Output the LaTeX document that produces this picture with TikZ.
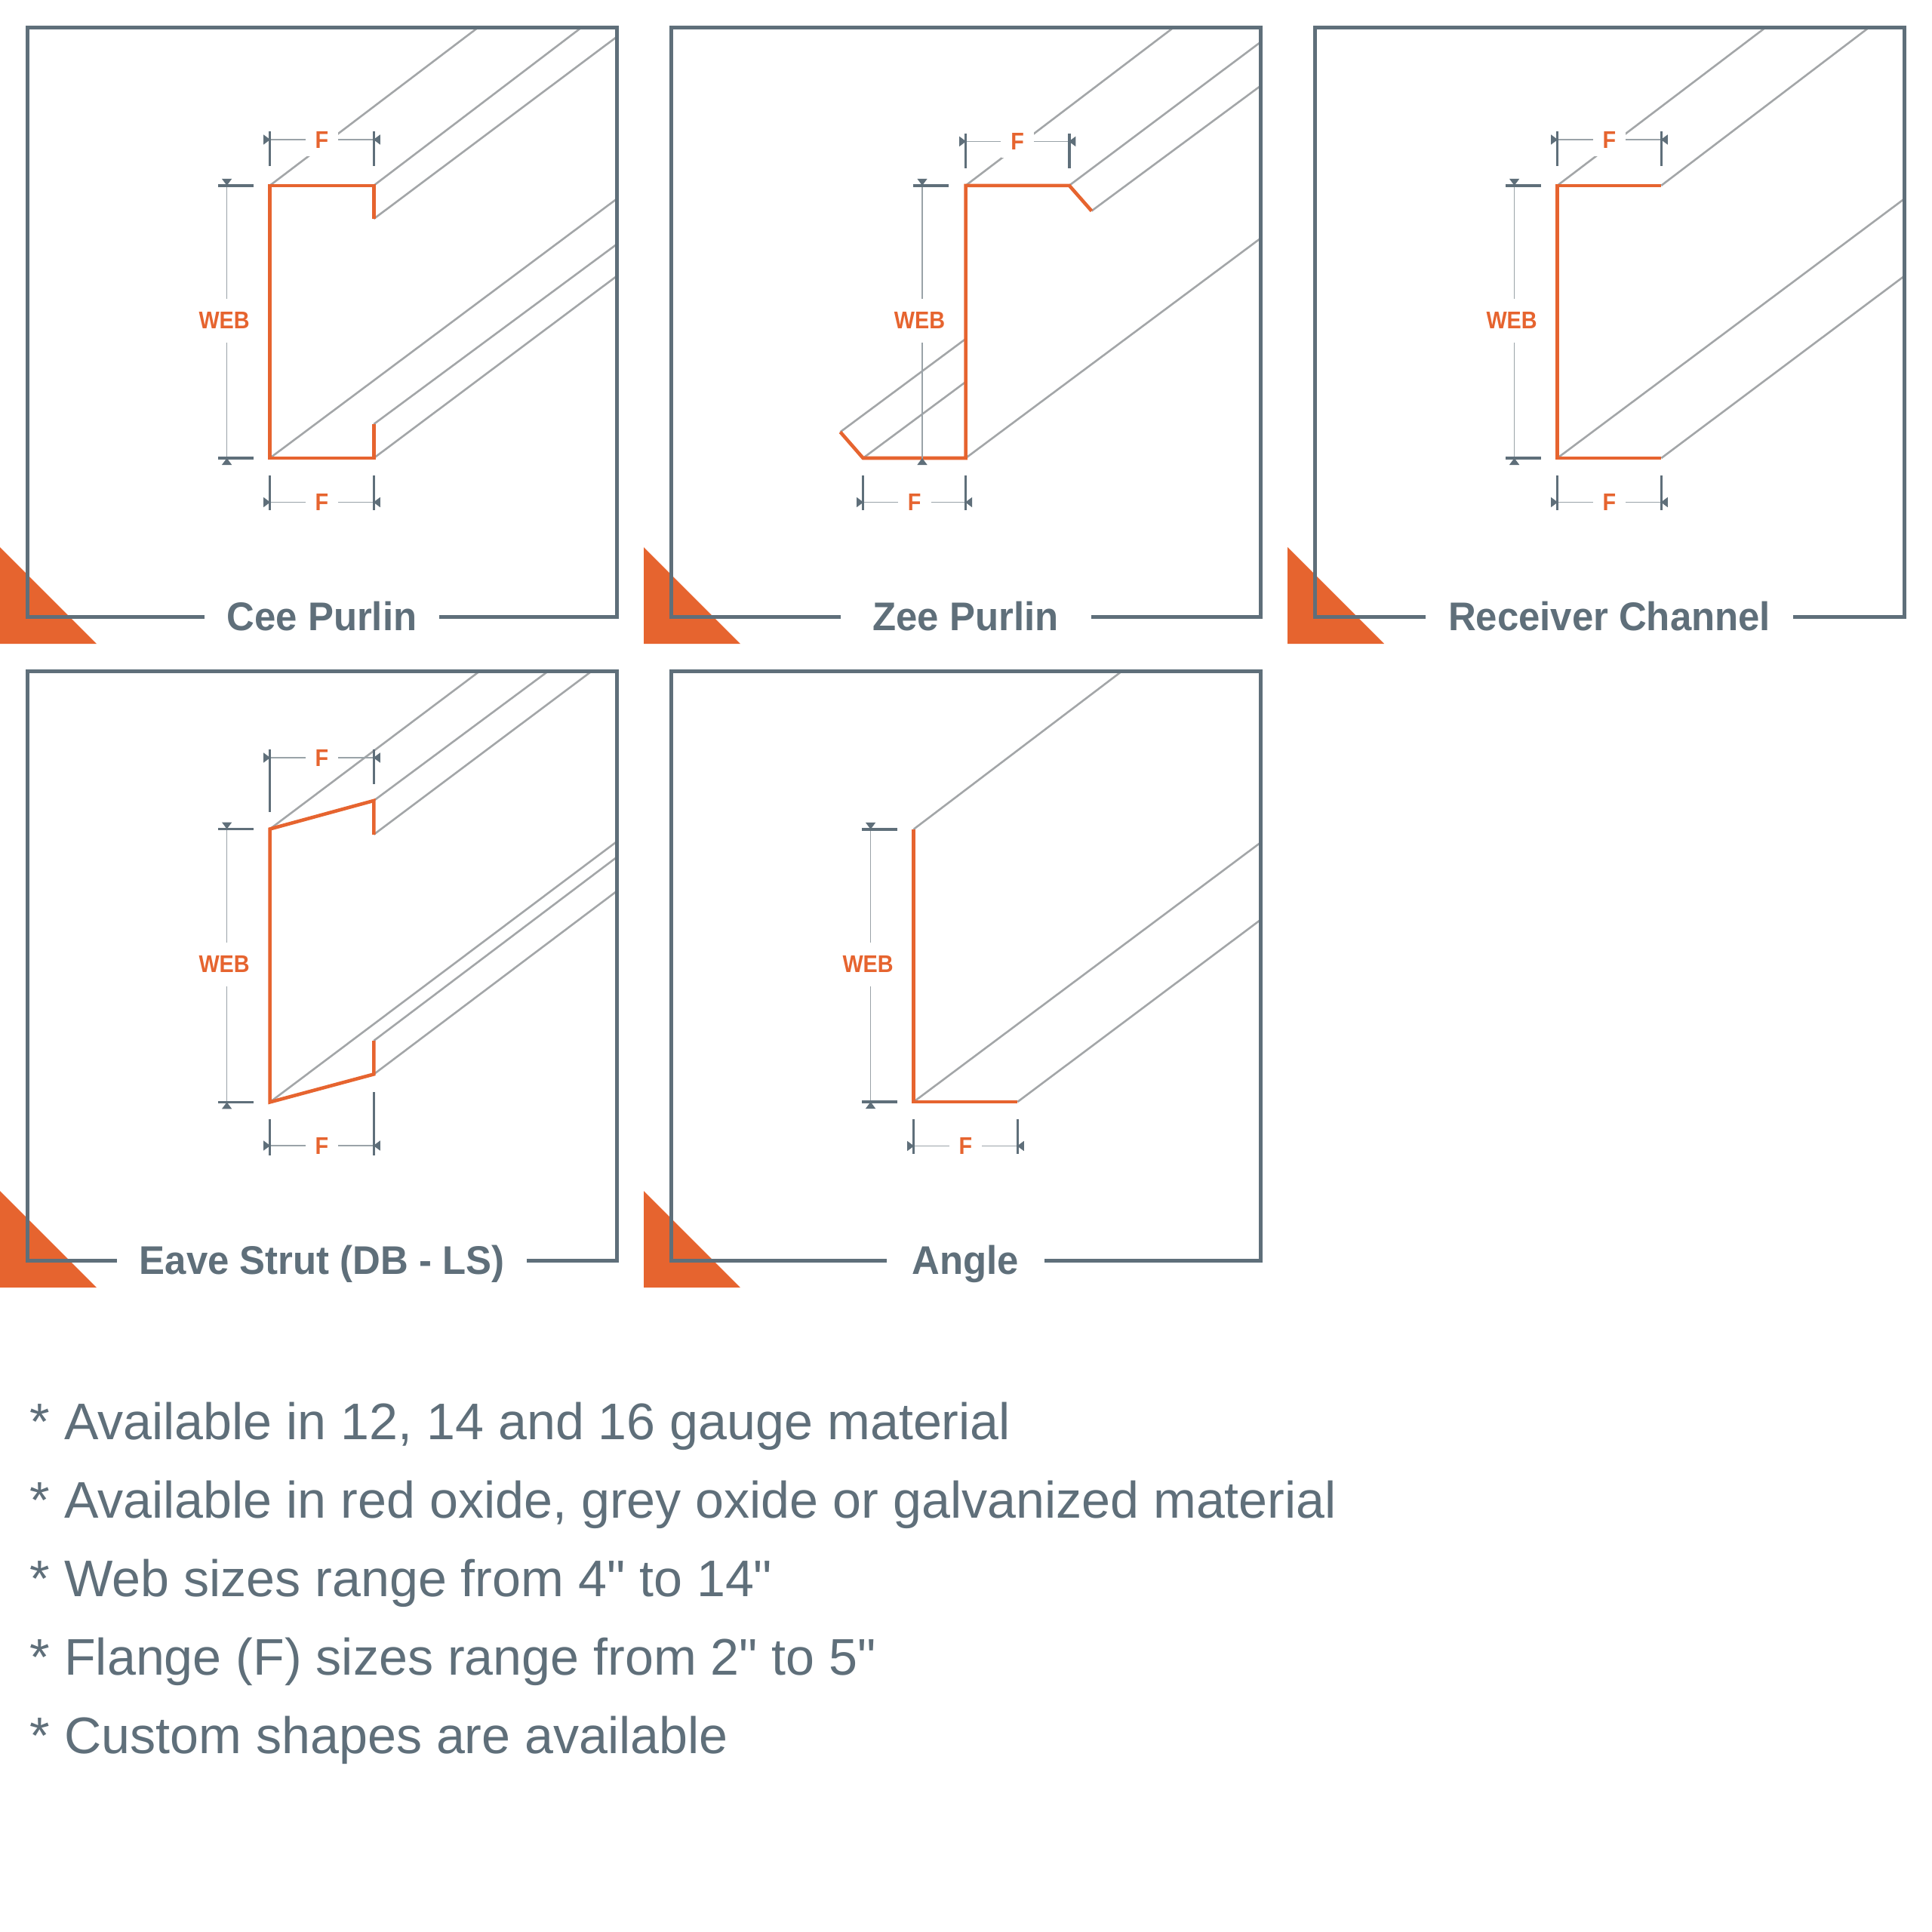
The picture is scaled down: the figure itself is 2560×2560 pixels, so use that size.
\documentclass[tikz,border=0pt]{standalone}
\usepackage{fontspec}
\setmainfont[Ligatures=TeXOff]{Liberation Sans}
\newfontfamily\labelfont[FakeStretch=0.9]{Liberation Sans}
\newfontfamily\titlefont[FakeStretch=0.96]{Liberation Sans}
\usetikzlibrary{arrows.meta}
\definecolor{slate}{HTML}{5F6F7A}
\definecolor{accent}{HTML}{E6642F}
\definecolor{edge}{HTML}{A3A6A8}
\definecolor{thin}{HTML}{9AA3A8}

% frame, corner mark and title of one panel
\newcommand{\panelframe}[2][]{
  \fill[accent] (0,725) -- (0,853) -- (128,853) -- cycle;
  \draw[panelline] (36,36) rectangle (817,817);
  \node[paneltitle, #1] (title) at (426.5,816.5) {#2};
}
% flange dimension: name, left x, right x, y
\newcommand{\flangedim}[4]{
  \coordinate (#1l) at (#2-8.5,#4);
  \coordinate (#1r) at (#3+8.5,#4);
  \node[dimlabel, minimum width=21.5pt, minimum height=22pt] (#1) at ({(#2+#3)/2},#4) {F};
  \draw[dimline] (#1l) -- (#1);
  \draw[dimline] (#1r) -- (#1);
}
% web dimension: line x, top y, bottom y
\newcommand{\webdim}[3]{
  \coordinate (wt) at (#1,#2-9);
  \coordinate (wb) at (#1,#3+9);
  \node[dimlabel, minimum height=28.5pt] (web) at (#1-3.5,{(#2+#3)/2-1.5}) {WEB};
  \draw[dimline] (wt) -- (wt |- web.north);
  \draw[dimline] (wb) -- (wb |- web.south);
  \draw[extline] (#1-11.6,#2) -- (#1+35.4,#2);
}

\begin{document}
\begin{tikzpicture}[
    x=0.5pt, y=-0.5pt,
    panelline/.style={draw=slate, line width=2.5pt},
    profile/.style={draw=accent, line width=2.3pt},
    edgeline/.style={draw=edge, line width=1.3pt},
    extline/.style={draw=slate, line width=1.7pt},
    dimline/.style={draw=thin, line width=0.8pt, {Triangle[reversed, length=4.5pt, width=6.5pt, color=slate]}-},
    dimlabel/.style={fill=white, inner sep=0pt, text=accent, font=\labelfont\fontsize{16}{16}\selectfont\bfseries},
    paneltitle/.style={fill=white, inner xsep=15pt, inner ysep=8pt, text height=19pt, text depth=0pt, text=slate, font=\titlefont\fontsize{26.5}{26.5}\selectfont\bfseries},
    note/.style={anchor=base west, inner sep=0pt, text=slate, font=\fontsize{34.1}{34.1}\selectfont}
  ]
  \useasboundingbox (0,0) rectangle (2560,2560);

  % Cee Purlin
  \begin{scope}
    \draw[edgeline] (357.6,245.8) -- (634,36);
    \draw[edgeline] (495.3,245.8) -- (771,36);
    \draw[edgeline] (495.3,290) -- (817,49);
    \draw[edgeline] (357.6,607) -- (817,263.7);
    \draw[edgeline] (495.3,562) -- (817,323.8);
    \draw[edgeline] (495.3,607) -- (817,366);
    \draw[profile] (495.3,290) -- (495.3,245.8) -- (357.6,245.8) -- (357.6,607) -- (495.3,607) -- (495.3,562);
    \flangedim{ftop}{357.6}{495.3}{185}
    \flangedim{fbot}{357.6}{495.3}{665.5}
    \draw[extline] (357.6,174) -- (357.6,220);
    \draw[extline] (495.3,174) -- (495.3,220);
    \draw[extline] (357.6,630) -- (357.6,676);
    \draw[extline] (495.3,630) -- (495.3,676);
    \webdim{300.6}{245.8}{607}
    \draw[extline] (289,607) -- (336,607);
    \panelframe{Cee Purlin}
  \end{scope}

  % Zee Purlin
  \begin{scope}[shift={(853,0)}]
    \draw[edgeline] (426.6,245.8) -- (702.6,36);
    \draw[edgeline] (563.8,245.8) -- (817,56);
    \draw[edgeline] (593.4,279.5) -- (817,114);
    \draw[edgeline] (426.6,607) -- (817,316);
    \draw[edgeline] (260.4,572.4) -- (426.6,449);
    \draw[edgeline] (290.6,607) -- (426.6,506);
    \draw[profile] (593.4,279.5) -- (563.8,245.8) -- (426.6,245.8) -- (426.6,607) -- (290.6,607) -- (260.4,572.4);
    \flangedim{ftop}{426.6}{563.8}{187.4}
    \flangedim{fbot}{290.6}{426.6}{665.5}
    \draw[extline] (426.6,176.8) -- (426.6,222.8);
    \draw[extline] (563.8,176.8) -- (563.8,222.8);
    \draw[extline] (290.6,630) -- (290.6,676);
    \draw[extline] (426.6,630) -- (426.6,676);
    \webdim{369}{245.8}{607}
    \panelframe[inner xsep=21.5pt]{Zee Purlin}
  \end{scope}

  % Receiver Channel
  \begin{scope}[shift={(1706,0)}]
    \draw[edgeline] (357.6,245.8) -- (634,36);
    \draw[edgeline] (495.3,245.8) -- (771,36);
    \draw[edgeline] (357.6,607) -- (817,263.7);
    \draw[edgeline] (495.3,607) -- (817,366);
    \draw[profile] (495.3,245.8) -- (357.6,245.8) -- (357.6,607) -- (495.3,607);
    \flangedim{ftop}{357.6}{495.3}{185}
    \flangedim{fbot}{357.6}{495.3}{665.5}
    \draw[extline] (357.6,174) -- (357.6,220);
    \draw[extline] (495.3,174) -- (495.3,220);
    \draw[extline] (357.6,630) -- (357.6,676);
    \draw[extline] (495.3,630) -- (495.3,676);
    \webdim{300.6}{245.8}{607}
    \draw[extline] (289,607) -- (336,607);
    \panelframe{Receiver Channel}
  \end{scope}

  % Eave Strut
  \begin{scope}[shift={(0,853)}]
    \draw[edgeline] (357.6,245.5) -- (636,36);
    \draw[edgeline] (495.3,207.9) -- (726.8,36);
    \draw[edgeline] (495.3,252.8) -- (784.4,36);
    \draw[edgeline] (357.6,607.4) -- (817,262.3);
    \draw[edgeline] (495.3,526) -- (817,283);
    \draw[edgeline] (495.3,570.4) -- (817,328);
    \draw[profile] (495.3,252.8) -- (495.3,207.9) -- (357.6,245.5) -- (357.6,607.4) -- (495.3,570.4) -- (495.3,526);
    \flangedim{ftop}{357.6}{495.3}{151}
    \flangedim{fbot}{357.6}{495.3}{665}
    \draw[extline] (357.6,140) -- (357.6,223);
    \draw[extline] (495.3,140) -- (495.3,185.5);
    \draw[extline] (357.6,630) -- (357.6,677.6);
    \draw[extline] (495.3,594) -- (495.3,677.6);
    \webdim{300.6}{245.5}{607.4}
    \draw[extline] (289,607.4) -- (336,607.4);
    \panelframe{Eave Strut (DB - LS)}
  \end{scope}

  % Angle
  \begin{scope}[shift={(853,853)}]
    \draw[edgeline] (357.6,245.8) -- (634,36);
    \draw[edgeline] (357.6,607) -- (817,263.7);
    \draw[edgeline] (495.3,607) -- (817,366);
    \draw[profile] (357.6,245.8) -- (357.6,607) -- (495.3,607);
    \flangedim{fbot}{357.6}{495.3}{665.5}
    \draw[extline] (357.6,630) -- (357.6,676);
    \draw[extline] (495.3,630) -- (495.3,676);
    \webdim{300.6}{245.8}{607}
    \draw[extline] (289,607) -- (336,607);
    \panelframe[inner xsep=17pt]{Angle}
  \end{scope}

  % Notes
  \node[note] (gauge) at (39.5,1907) {* Available in 12, 14 and 16 gauge material};
  \node[note] (oxide) at (39.5,2011) {* Available in red oxide, grey oxide or galvanized material};
  \node[note] (websize) at (39.5,2115) {* Web sizes range from 4" to 14"};
  \node[note] (flange) at (39.5,2219) {* Flange (F) sizes range from 2" to 5"};
  \node[note] (custom) at (39.5,2323) {* Custom shapes are available};
\end{tikzpicture}
\end{document}
